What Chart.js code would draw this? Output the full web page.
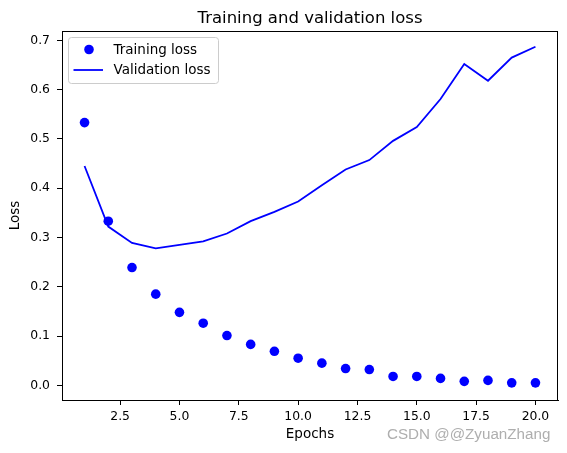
<!DOCTYPE html>
<html>
<head>
<meta charset="utf-8">
<script src="https://cdn.jsdelivr.net/npm/chart.js@4"></script>
<style>
  html, body { margin: 0; padding: 0; background: #fff; }
  #wrap { width: 567px; height: 453px; }
</style>
</head>
<body>
<div id="wrap"><canvas id="loss"></canvas></div>
<script>
const epochs = [1, 2, 3, 4, 5, 6, 7, 8, 9, 10, 11, 12, 13, 14, 15, 16, 17, 18, 19, 20];
const trainLoss = [0.533, 0.333, 0.239, 0.185, 0.148, 0.126, 0.101, 0.083, 0.069, 0.055,
                   0.045, 0.034, 0.032, 0.018, 0.018, 0.014, 0.008, 0.010, 0.005, 0.005];
const valLoss = [0.445, 0.322, 0.289, 0.278, 0.285, 0.292, 0.308, 0.333, 0.352, 0.373,
                 0.406, 0.438, 0.457, 0.496, 0.524, 0.581, 0.652, 0.618, 0.665, 0.687];
const xTicks = [2.5, 5, 7.5, 10, 12.5, 15, 17.5, 20];
const yTicks = [0, 0.1, 0.2, 0.3, 0.4, 0.5, 0.6, 0.7];
const chartTitle = "Training and validation loss";

Chart.defaults.font.family = "'DejaVu Sans', sans-serif";
Chart.defaults.color = "#000";

// matplotlib-style title over the axes, frame, legend box and the watermark
const extras = {
  id: "extras",
  afterDatasetsDraw(chart) {
    const ctx = chart.ctx;
    const a = chart.chartArea;
    ctx.save();
    ctx.strokeStyle = "#000";
    ctx.lineWidth = 1;
    ctx.strokeRect(Math.round(a.left) + 0.5, Math.round(a.top) + 0.5,
                   Math.round(a.right - a.left) - 1, Math.round(a.bottom - a.top));

    // title, centred on the plot area
    ctx.font = "16.5px 'DejaVu Sans'";
    ctx.fillStyle = "#000";
    ctx.textAlign = "center";
    ctx.textBaseline = "alphabetic";
    ctx.fillText(chartTitle, (a.left + a.right) / 2, 22.7);
    ctx.textAlign = "left";

    // legend
    const bx = a.left + 6.5, by = a.top + 6.5, bw = 150, bh = 46;
    ctx.beginPath();
    ctx.roundRect(bx, by, bw, bh, 3);
    ctx.fillStyle = "rgba(255,255,255,0.8)";
    ctx.fill();
    ctx.strokeStyle = "#cccccc";
    ctx.stroke();

    const ds = chart.data.datasets;
    ctx.font = "13.5px 'DejaVu Sans'";
    ctx.textBaseline = "middle";
    // marker entry
    ctx.beginPath();
    ctx.arc(bx + 20.5, by + 12, 4.8, 0, Math.PI * 2);
    ctx.fillStyle = ds[0].backgroundColor;
    ctx.fill();
    ctx.fillStyle = "#000";
    ctx.fillText(ds[0].label, bx + 45, by + 12.5);
    // line entry
    ctx.beginPath();
    ctx.moveTo(bx + 5, by + 32.5);
    ctx.lineTo(bx + 34.5, by + 32.5);
    ctx.strokeStyle = ds[1].borderColor;
    ctx.lineWidth = 1.8;
    ctx.stroke();
    ctx.fillText(ds[1].label, bx + 45, by + 33);

    // watermark
    ctx.font = "15.2px 'Liberation Sans'";
    ctx.textBaseline = "alphabetic";
    ctx.fillStyle = "rgba(160,160,160,0.85)";
    ctx.fillText("CSDN @@ZyuanZhang", 387, 439);
    ctx.restore();
  }
};

new Chart(document.getElementById("loss"), {
  type: "scatter",
  data: {
    datasets: [
      {
        label: "Training loss",
        data: epochs.map((e, i) => ({ x: e, y: trainLoss[i] })),
        backgroundColor: "#0000ff",
        borderWidth: 0,
        pointRadius: 4.8,
        showLine: false,
      },
      {
        label: "Validation loss",
        data: epochs.map((e, i) => ({ x: e, y: valLoss[i] })),
        borderColor: "#0000ff",
        backgroundColor: "#0000ff",
        borderWidth: 1.8,
        pointRadius: 0,
        showLine: true,
        tension: 0,
      },
    ],
  },
  options: {
    responsive: true,
    maintainAspectRatio: false,
    animation: false,
    layout: { padding: { left: 0, right: 9, top: 31, bottom: 0 } },
    plugins: {
      legend: { display: false },
      tooltip: { enabled: false },
      title: { display: false },
    },
    scales: {
      x: {
        type: "linear",
        min: 0.05,
        max: 20.95,
        afterFit(scale) { scale.height = 53; },
        afterBuildTicks(scale) { scale.ticks = xTicks.map(v => ({ value: v })); },
        grid: { drawOnChartArea: false, drawTicks: true, tickLength: 5, color: "#000" },
        border: { display: true, color: "#000" },
        ticks: {
          font: { size: 12.4 },
          padding: 4,
          maxRotation: 0,
          callback: v => Number(v).toFixed(1),
        },
        title: {
          display: true,
          text: "Epochs",
          font: { size: 13.5, lineHeight: 1.2 },
          padding: { top: 0, bottom: 10 },
        },
      },
      y: {
        type: "linear",
        min: -0.0298,
        max: 0.7189,
        afterFit(scale) { scale.width = 62; },
        afterBuildTicks(scale) { scale.ticks = yTicks.map(v => ({ value: v })); },
        grid: { drawOnChartArea: false, drawTicks: true, tickLength: 5, color: "#000" },
        border: { display: true, color: "#000" },
        ticks: {
          font: { size: 12.4 },
          padding: 7,
          callback: v => Number(v).toFixed(1),
        },
        title: {
          display: true,
          text: "Loss",
          font: { size: 13.5, lineHeight: 1.2 },
          padding: { top: 7, bottom: 0 },
        },
      },
    },
  },
  plugins: [extras],
});
</script>
</body>
</html>
